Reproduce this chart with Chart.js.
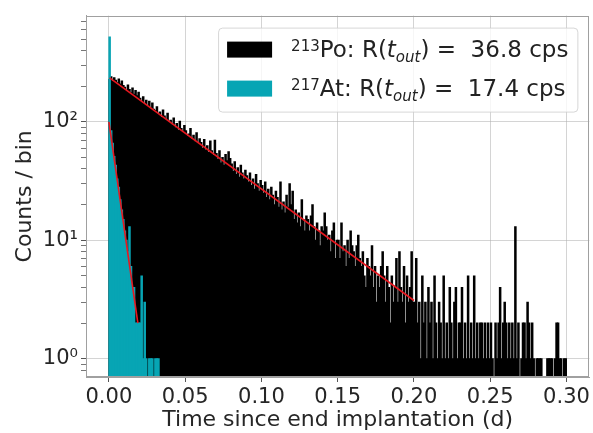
<!DOCTYPE html>
<html>
<head>
<meta charset="utf-8">
<script src="https://cdn.jsdelivr.net/npm/chart.js@4"></script>
<style>
  body { margin: 0; background: #fff; }
  #wrap { width: 593px; height: 433px; position: relative; }
</style>
</head>
<body>
<div id="wrap"><canvas id="chart"></canvas></div>
<script>
// histogram bins, 0.001 d wide, starting at t = 0
const binWidth = 0.001;

// 213Po counts per bin
const poCounts = [
  228, 241, 219, 236, 225, 214, 230, 209, 221, 203,
  196, 182, 205, 188, 176, 193, 171, 184, 166, 178,
  158, 147, 163, 141, 152, 136, 149, 131, 144, 128,
  125, 134, 117, 121, 109, 126, 112, 104, 118, 99,
  103, 94, 108, 89, 97, 85, 101, 88, 82, 93,
  84, 76, 79, 88, 71, 77, 68, 81, 66, 72,
  67, 60, 71, 58, 63, 55, 69, 57, 52, 70,
  54, 48, 57, 45, 50, 43, 53, 47, 56, 49,
  44, 38, 46, 36, 41, 34, 43, 37, 33, 39,
  35, 31, 37, 29, 33, 27, 36, 30, 26, 32,
  29, 25, 31, 23, 27, 22, 28, 24, 20, 26,
  23, 19, 31, 18, 21, 17, 24, 19, 30, 20,
  26, 15, 18, 14, 17, 13, 22, 15, 12, 16,
  15, 12, 16, 20, 13, 10, 14, 12, 9, 13,
  12, 17, 13, 10, 11, 8, 12, 14, 7, 10,
  10, 7, 14, 8, 9, 6, 10, 7, 12, 9,
  8, 6, 9, 11, 7, 6, 8, 5, 4, 7,
  6, 5, 9, 4, 6, 3, 5, 4, 6, 8,
  5, 3, 6, 4, 2, 5, 3, 4, 7, 3,
  8, 4, 3, 6, 2, 5, 3, 4, 8, 3,
  3, 7, 2, 3, 1, 5, 2, 3, 1, 4,
  2, 3, 1, 5, 2, 1, 3, 2, 1, 5,
  1, 2, 1, 4, 2, 1, 3, 4, 1, 2,
  2, 4, 1, 2, 1, 5, 1, 2, 1, 5,
  1, 2, 1, 2, 2, 1, 2, 1, 2, 1,
  2, 1, 0, 2, 1, 2, 4, 1, 2, 3,
  2, 1, 2, 1, 2, 1, 13, 1, 2, 0,
  1, 2, 2, 1, 3, 2, 1, 2, 1, 0,
  1, 1, 1, 1, 0, 0, 0, 1, 1, 1,
  1, 0, 1, 2, 2, 1, 1, 0, 1, 1
];

// 217At counts per bin
const atCounts = [
  520, 84, 66, 51, 43, 33, 28, 22, 18, 15,
  12, 10, 8, 13, 6, 4, 4, 2, 2, 2,
  2, 5, 1, 3, 1, 0, 1, 1, 1, 0,
  1, 1, 1
];

// exponential fits (end points, straight on the log axis)
const poFitT = [0.0005, 0.2];
const poFitY = [235, 3.1];
const atFitT = [0.0, 0.019];
const atFitY = [100, 2.0];

// legend text
const legendMass = ['213', '217'];
const legendName = ['Po', 'At'];
const legendRate = ['36.8', '17.4'];

const xTicks = [0, 0.05, 0.1, 0.15, 0.2, 0.25, 0.3];
const yMajor = [1, 10, 100];
const yMinor = [0.8, 0.9, 2, 3, 4, 5, 6, 7, 8, 9, 20, 30, 40, 50, 60, 70, 80, 90, 200, 300, 400, 500, 600, 700];
const supDigits = { '0': '\u2070', '1': '\u00b9', '2': '\u00b2' };

const black = '#000000';
const cyan = '#07a5b4';
const red = '#e8171f';
const gridCol = 'rgba(176,176,176,0.55)';
const FONT = '"DejaVu Sans", sans-serif';

const toBars = counts => counts.map((c, i) => ({ x: (i + 0.5) * binWidth, y: c > 0 ? c : null }));
const toLine = (ts, ys) => ts.map((t, i) => ({ x: t, y: ys[i] }));

const frameAndLegend = {
  id: 'frameAndLegend',
  afterDraw(chart) {
    const ctx = chart.ctx;
    const a = chart.chartArea;
    ctx.save();
    ctx.strokeStyle = '#a0a0a0';
    ctx.lineWidth = 1;
    ctx.strokeRect(Math.round(a.left) + 0.5, Math.round(a.top) + 0.5, Math.round(a.right - a.left) - 1, Math.round(a.bottom - a.top) - 1);

    const main = '23px ' + FONT;
    const ital = 'italic 23px ' + FONT;
    const sup = '15px ' + FONT;
    const sub = 'italic 15px ' + FONT;
    const rows = legendMass.map((m, i) => [
      { t: m, f: sup, dy: -6 },
      { t: legendName[i] + ': R(', f: main, dy: 0 },
      { t: 't', f: ital, dy: 0 },
      { t: 'out', f: sub, dy: 5 },
      { t: ') =  ' + legendRate[i] + ' cps', f: main, dy: 0 }
    ]);
    let textW = 0;
    rows.forEach(r => {
      let w = 0;
      r.forEach(run => { ctx.font = run.f; w += ctx.measureText(run.t).width; });
      textW = Math.max(textW, w);
    });
    const boxW = 9 + 45 + 19 + textW + 9;
    const boxH = 84;
    const bx = a.right - 12 - boxW;
    const by = a.top + 12;
    ctx.beginPath();
    ctx.roundRect(bx + 0.5, by + 0.5, boxW, boxH, 4);
    ctx.fillStyle = 'rgba(255,255,255,0.8)';
    ctx.fill();
    ctx.strokeStyle = 'rgba(204,204,204,0.8)';
    ctx.stroke();

    const patchCols = [black, cyan];
    const patchY = [by + 14, by + 53];
    const baseY = [by + 29, by + 68];
    rows.forEach((r, i) => {
      ctx.fillStyle = patchCols[i];
      ctx.fillRect(bx + 9, patchY[i], 45, 16);
      let x = bx + 9 + 45 + 19;
      ctx.fillStyle = '#222';
      ctx.textBaseline = 'alphabetic';
      ctx.textAlign = 'left';
      r.forEach(run => {
        ctx.font = run.f;
        ctx.fillText(run.t, x, baseY[i] + run.dy);
        x += ctx.measureText(run.t).width;
      });
    });
    ctx.restore();
  }
};

new Chart(document.getElementById('chart'), {
  type: 'bar',
  data: {
    datasets: [
      { type: 'line', label: 'Po fit', data: toLine(poFitT, poFitY), borderColor: red, borderWidth: 1.6, pointRadius: 0, order: 0 },
      { type: 'line', label: 'At fit', data: toLine(atFitT, atFitY), borderColor: red, borderWidth: 1.6, pointRadius: 0, order: 0 },
      { label: '217At', data: toBars(atCounts), backgroundColor: cyan, grouped: false, barPercentage: 1, categoryPercentage: 1, inflateAmount: 0.5, borderWidth: 0, order: 1 },
      { label: '213Po', data: toBars(poCounts), backgroundColor: black, grouped: false, barPercentage: 1, categoryPercentage: 1, inflateAmount: 0.5, borderWidth: 0, order: 2 }
    ]
  },
  options: {
    responsive: true,
    maintainAspectRatio: false,
    animation: false,
    layout: { padding: { top: 8, right: 3, left: 0, bottom: 0 } },
    plugins: { legend: { display: false }, tooltip: { enabled: false } },
    scales: {
      x: {
        type: 'linear',
        min: -0.015,
        max: 0.315,
        offset: false,
        z: 1,
        afterBuildTicks: s => { s.ticks = xTicks.map(v => ({ value: v })); },
        afterFit: s => { s.height = 56; },
        grid: { offset: false, color: gridCol, tickColor: '#555', tickLength: 5, lineWidth: 1 },
        border: { display: true, color: '#a0a0a0' },
        ticks: { color: '#262626', font: { family: FONT, size: 21 }, padding: 3, maxRotation: 0, autoSkip: false,
          callback: v => v.toFixed(2) },
        title: { display: true, text: 'Time since end implantation (d)', color: '#262626', font: { family: FONT, size: 22 }, padding: { top: 0, bottom: 0 } }
      },
      y: {
        type: 'logarithmic',
        min: 0.72,
        max: 790,
        z: 1,
        afterBuildTicks: s => { s.ticks = yMinor.concat(yMajor).sort((p, q) => p - q).map(v => ({ value: v })); },
        afterFit: s => { s.width = 86; },
        grid: {
          color: c => yMajor.includes(c.tick && c.tick.value) ? gridCol : 'rgba(0,0,0,0)',
          tickColor: c => yMajor.includes(c.tick && c.tick.value) ? '#555' : '#777',
          tickLength: 5
        },
        border: { display: true, color: '#a0a0a0' },
        ticks: { color: '#262626', font: { family: FONT, size: 21 }, padding: 3, autoSkip: false,
          callback: v => yMajor.includes(v) ? '10' + supDigits[String(Math.round(Math.log10(v)))] : '' },
        title: { display: true, text: 'Counts / bin', color: '#262626', font: { family: FONT, size: 22 }, padding: { top: 12, bottom: 0 } }
      }
    }
  },
  plugins: [frameAndLegend]
});
</script>
</body>
</html>
